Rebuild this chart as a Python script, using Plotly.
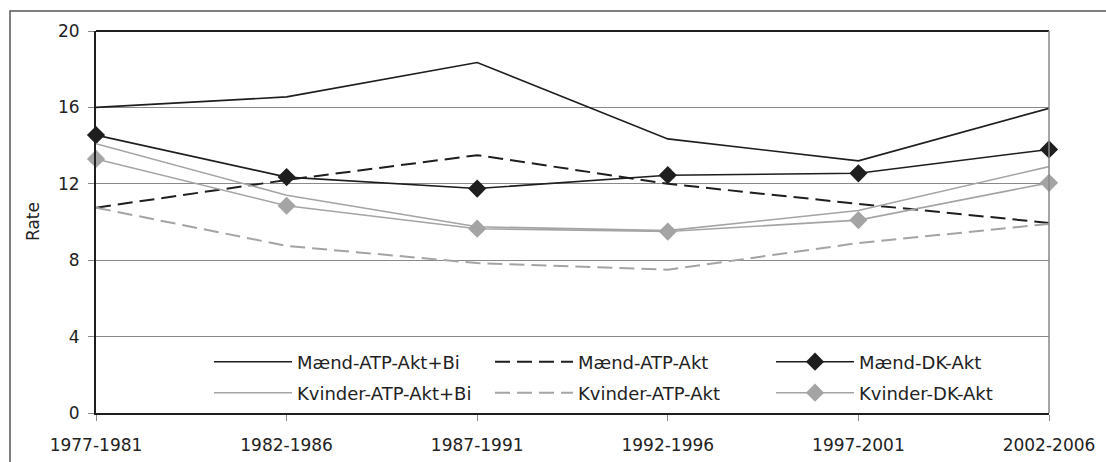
import plotly.graph_objects as go

PERIODS = ["1977-1981", "1982-1986", "1987-1991", "1992-1996", "1997-2001", "2002-2006"]

MAEND_ATP_AKT_BI = [16.0, 16.55, 18.35, 14.35, 13.2, 15.95]
MAEND_ATP_AKT = [10.75, 12.2, 13.5, 12.0, 10.95, 9.95]
MAEND_DK_AKT = [14.55, 12.35, 11.75, 12.45, 12.55, 13.8]
KVINDER_ATP_AKT_BI = [14.1, 11.4, 9.75, 9.55, 10.6, 12.9]
KVINDER_ATP_AKT = [10.75, 8.75, 7.85, 7.5, 8.9, 9.9]
KVINDER_DK_AKT = [13.3, 10.85, 9.65, 9.5, 10.1, 12.05]

Y_TICKS = [0, 4, 8, 12, 16, 20]

BLACK = "#1e1e1e"
GRAY = "#a4a4a4"
FONT = "DejaVu Sans"
TICK_SIZE = 17
LEG_SIZE = 18

# plot area in pixels (1106 x 462 page)
L, R, T, B = 96, 57, 31, 49
PW = 1106 - L - R
PH = 462 - T - B


def px_x(p):
    return (p - L) / PW


def px_y(p):
    return (462 - B - p) / PH


fig = go.Figure()

series = [
    ("Mænd-ATP-Akt+Bi", MAEND_ATP_AKT_BI, BLACK, "solid", False, "legend"),
    ("Mænd-ATP-Akt", MAEND_ATP_AKT, BLACK, "15px,7px", False, "legend"),
    ("Mænd-DK-Akt", MAEND_DK_AKT, BLACK, "solid", True, "legend"),
    ("Kvinder-ATP-Akt+Bi", KVINDER_ATP_AKT_BI, GRAY, "solid", False, "legend2"),
    ("Kvinder-ATP-Akt", KVINDER_ATP_AKT, GRAY, "15px,7px", False, "legend2"),
    ("Kvinder-DK-Akt", KVINDER_DK_AKT, GRAY, "solid", True, "legend2"),
]

for name, vals, color, dash, markers, leg in series:
    fig.add_trace(go.Scatter(
        x=PERIODS, y=vals, name=name,
        mode="lines+markers" if markers else "lines",
        line=dict(color=color, width=2 if dash != "solid" else 1.6, dash=dash),
        marker=dict(symbol="diamond", size=14, color=color),
        legend=leg, cliponaxis=False,
    ))

# top black border and right gray border of the plot area
fig.add_shape(type="line", xref="paper", yref="paper", x0=0, x1=1, y0=1, y1=1,
              line=dict(color=BLACK, width=2))
fig.add_shape(type="line", xref="paper", yref="paper", x0=1, x1=1, y0=0, y1=1,
              line=dict(color="#888888", width=1.5))
# outer frame, running off the right and bottom edges
fig.add_shape(type="rect", xref="paper", yref="paper",
              x0=px_x(10), x1=px_x(1112), y0=px_y(470), y1=px_y(11),
              line=dict(color="#555555", width=1.5))

fig.add_annotation(text="Rate", xref="paper", yref="paper", x=px_x(33), y=0.5,
                   xanchor="center", yanchor="middle",
                   textangle=-90, showarrow=False,
                   font=dict(family=FONT, size=TICK_SIZE, color="#222"))

leg_common = dict(
    orientation="h", bgcolor="rgba(0,0,0,0)", itemwidth=78,
    entrywidth=188, entrywidthmode="pixels", xanchor="left", yanchor="middle",
    font=dict(family=FONT, size=LEG_SIZE, color="#222"),
)

fig.update_layout(
    width=1106, height=462,
    margin=dict(l=L, r=R, t=T, b=B, autoexpand=False),
    paper_bgcolor="white", plot_bgcolor="white",
    showlegend=True,
    legend=dict(x=px_x(209), y=px_y(362), **leg_common),
    legend2=dict(x=px_x(209), y=px_y(393), **leg_common),
    xaxis=dict(
        type="category", range=[0, 5], showgrid=False, automargin=False,
        showline=True, linecolor=BLACK, linewidth=2,
        ticks="outside", ticklen=6, tickcolor="#888", ticklabelstandoff=10,
        tickfont=dict(family=FONT, size=TICK_SIZE, color="#222"),
    ),
    yaxis=dict(
        range=[0, 20], tickvals=Y_TICKS, showgrid=True, gridcolor="#8a8a8a",
        gridwidth=1, zeroline=False, automargin=False,
        showline=True, linecolor=BLACK, linewidth=2,
        ticks="outside", ticklen=6, tickcolor="#888", ticklabelstandoff=5,
        tickfont=dict(family=FONT, size=TICK_SIZE, color="#222"),
    ),
)

# the page is photographed from its corner, so drop the browser's body margin
fig.write_html("out.html", config={"displayModeBar": False},
               post_script="document.body.style.margin = '0';")
